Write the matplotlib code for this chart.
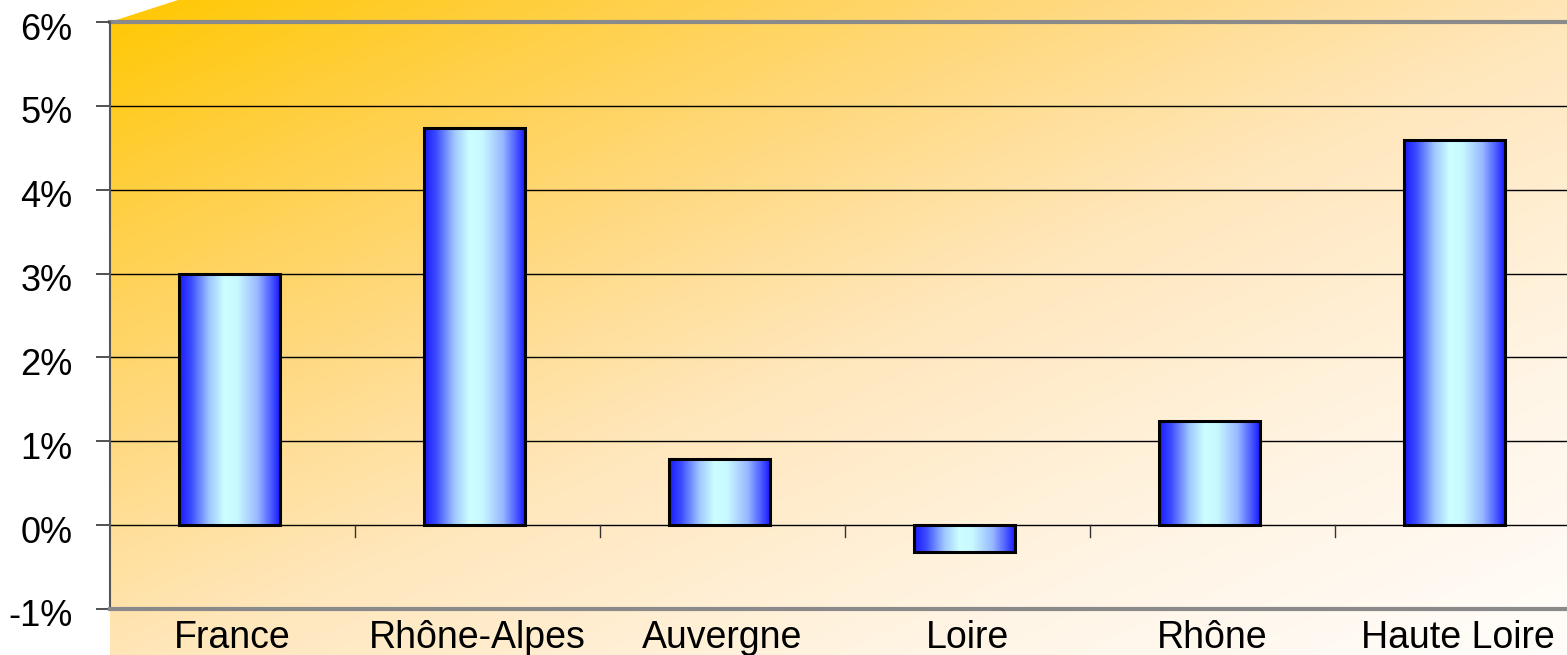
import numpy as np
import matplotlib
matplotlib.use("Agg")
import matplotlib.pyplot as plt
import matplotlib.transforms as mtransforms
from matplotlib.colors import LinearSegmentedColormap
from matplotlib.patches import Polygon
from matplotlib.ticker import FuncFormatter

categories = ["France", "Rhône-Alpes", "Auvergne", "Loire", "Rhône", "Haute Loire"]
values = [3.0, 4.73, 0.79, -0.32, 1.24, 4.59]
y_ticks = [-1, 0, 1, 2, 3, 4, 5, 6]

plt.rcParams['font.family'] = ['Liberation Sans', 'DejaVu Sans']

W, H = 1567, 655
fig = plt.figure(figsize=(W / 100, H / 100), dpi=100)

# background wall gradient
bg = fig.add_axes([0, 0, 1, 1])
bg.set_xlim(0, W)
bg.set_ylim(H, 0)
bg.axis('off')
bg_cmap = LinearSegmentedColormap.from_list(
    "bg", [(0, "#FFC800"), (0.15, "#FFCF40"), (0.33, "#FFD97F"), (0.52, "#FFE7BC"),
           (0.78, "#FFF5E6"), (1, "#FFFDFA")])
xx, yy = np.meshgrid(np.linspace(0, W, 400), np.linspace(0, H, 200))
t = np.clip(0.5 * (xx - 110) / (W - 110) + 0.5 * yy / H, 0, 1)
im = bg.imshow(t, cmap=bg_cmap, extent=(0, W, H, 0), aspect='auto', vmin=0, vmax=1)
poly = Polygon([(110, H), (110, 22), (178, 0), (W, 0), (W, H)], closed=True,
               transform=bg.transData, facecolor='none', edgecolor='none')
bg.add_patch(poly)
im.set_clip_path(poly)

ax = fig.add_axes([110 / W, 1 - 609 / H, 1470 / W, 587 / H])
ax.patch.set_alpha(0)
n = len(categories)

# gridlines
for yv in y_ticks[1:-1]:
    ax.axhline(yv, color='black', lw=1.0, zorder=1)
ax.axhline(y_ticks[-1], color='#8a8a8a', lw=3, zorder=1, clip_on=False)

for s in ['top', 'right']:
    ax.spines[s].set_visible(False)
ax.spines['bottom'].set_color('#8a8a8a')
ax.spines['bottom'].set_linewidth(3)
ax.spines['left'].set_color('#555555')
ax.spines['left'].set_linewidth(1.5)

# bars with gradient
bar_cmap = LinearSegmentedColormap.from_list(
    "bar", [(0, "#1A1AFF"), (0.12, "#3B4CFF"), (0.3, "#A0C6FF"), (0.45, "#CCFFFF"),
            (0.58, "#C8F8FF"), (0.78, "#98B8FF"), (0.92, "#4858FF"), (1, "#1A1AFF")])
grad = np.linspace(0, 1, 256).reshape(1, -1)
x = np.arange(n) - 0.012
bars = ax.bar(x, values, width=0.41, facecolor='none', edgecolor='black', linewidth=2.2, zorder=3)
for b in bars:
    x0, y0 = b.get_x(), b.get_y()
    w, h = b.get_width(), b.get_height()
    gi = ax.imshow(grad, cmap=bar_cmap, extent=(x0, x0 + w, min(y0, y0 + h), max(y0, y0 + h)),
                   aspect='auto', zorder=2.5)
    gi.set_clip_path(b)
ax.set_xlim(-0.5, n - 0.5)
ax.set_ylim(y_ticks[0], y_ticks[-1])

# x tick marks at category boundaries on the zero line
for b in np.arange(0.5, n - 0.5, 1.0):
    ax.plot([b, b], [0, -0.14], color='#333333', lw=1, zorder=2)

ax.set_xticks(np.arange(n))
ax.set_xticklabels(categories, fontsize=27)
ax.tick_params(axis='x', length=0, pad=8)
ax.set_yticks(y_ticks)
ax.yaxis.set_major_formatter(FuncFormatter(lambda v, p: f"{int(round(v))}%"))
ax.tick_params(axis='y', length=10, width=1.2, color='#333333', labelsize=26, pad=17)
offset = mtransforms.ScaledTranslation(0, -4 / 100, fig.dpi_scale_trans)
for lab in ax.get_yticklabels():
    lab.set_transform(lab.get_transform() + offset)

fig.savefig("out.png", dpi=100)
